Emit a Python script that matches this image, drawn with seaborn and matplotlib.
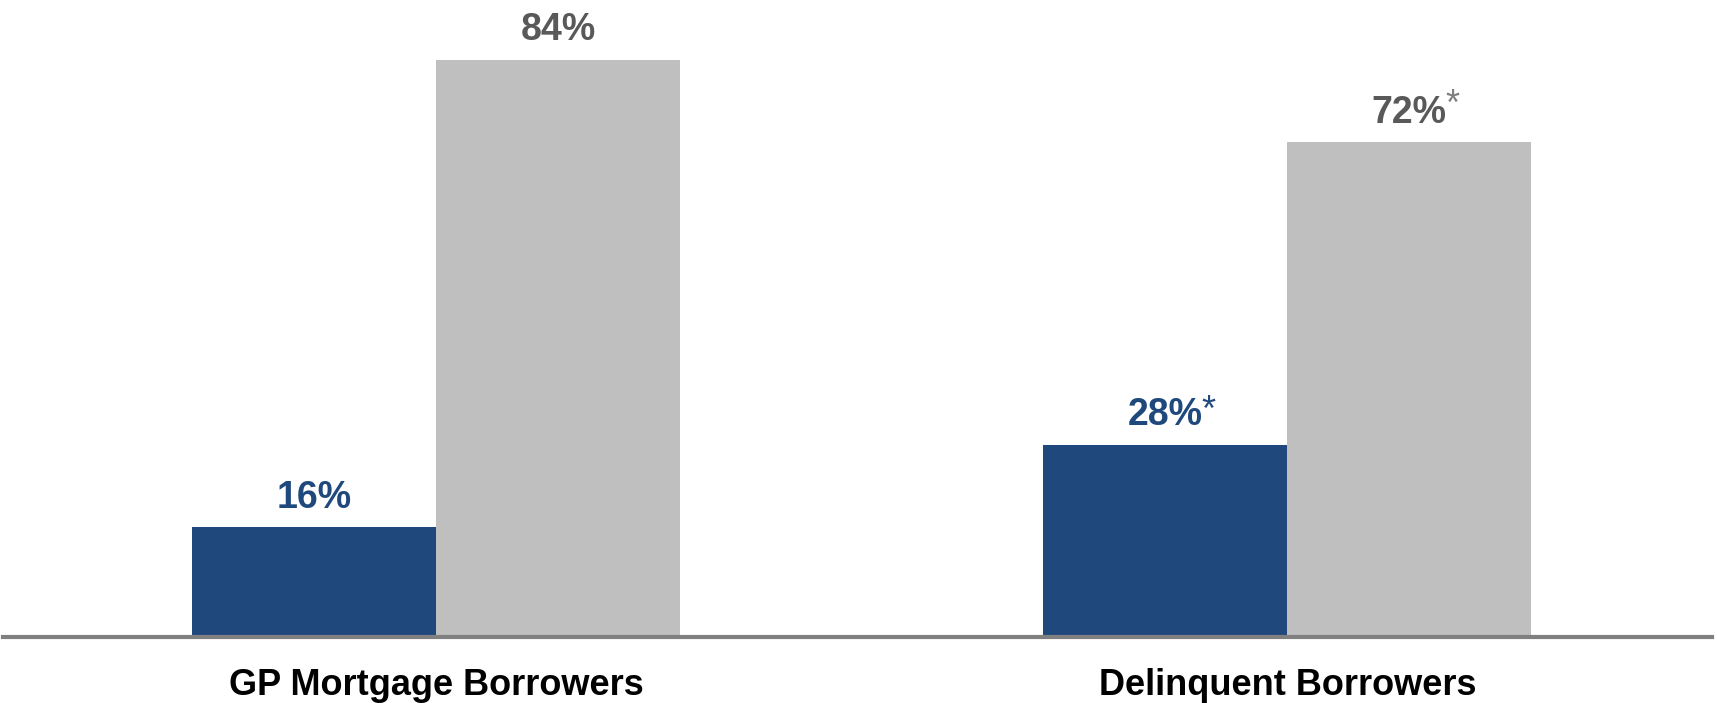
import matplotlib
matplotlib.use("Agg")
import matplotlib.pyplot as plt
import pandas as pd
import seaborn as sns

groups = ["GP Mortgage Borrowers", "Delinquent Borrowers"]
series = ["Share", "Remainder"]
share_values = [16, 28]
remainder_values = [84, 72]
share_flags = ["", "*"]
remainder_flags = ["", "*"]

bar_colors = {"Share": "#1F497D", "Remainder": "#BFBFBF"}
label_colors = {"Share": "#1F497D", "Remainder": "#595959"}
star_colors = {"Share": "#1F497D", "Remainder": "#7F7F7F"}

sns.set_theme(style="white")
plt.rcParams["font.family"] = ["Liberation Sans", "DejaVu Sans"]

df = pd.DataFrame({
    "group": groups * 2,
    "series": [series[0]] * 2 + [series[1]] * 2,
    "value": share_values + remainder_values,
    "flag": share_flags + remainder_flags,
})

fig = plt.figure(figsize=(17.17, 7.03), dpi=100)
ax = fig.add_axes([3 / 1717, 66 / 703, 1709 / 1717, 637 / 703])

sns.barplot(data=df, x="group", y="value", hue="series", order=groups,
            hue_order=series, palette=bar_colors, width=0.573, gap=0,
            saturation=1, linewidth=0, legend=False, ax=ax)

ax.set_xlim(-0.509, 1.499)
ax.set_ylim(0, 92.7)

for container, s in zip(ax.containers, series):
    sub = df[df["series"] == s].set_index("group").loc[groups]
    for bar, (_, row) in zip(container, sub.iterrows()):
        cx = bar.get_x() + bar.get_width() / 2
        txt = ax.annotate(f"{row['value']}%", xy=(cx, bar.get_height()),
                          xytext=(0, 14), textcoords="offset points",
                          ha="center", va="baseline", fontsize=27,
                          fontweight="bold", color=label_colors[s])
        if row["flag"]:
            # asterisk sits like a superscript right after the number
            raise_pts = 6 if s == "Remainder" else 3
            ax.annotate(row["flag"], xy=(1, 0), xycoords=txt,
                        xytext=(-1, raise_pts), textcoords="offset points",
                        ha="left", va="bottom", fontsize=26,
                        color=star_colors[s])

for side in ["left", "top", "right"]:
    ax.spines[side].set_visible(False)
ax.spines["bottom"].set_color("#808080")
ax.spines["bottom"].set_linewidth(3)

ax.set_yticks([])
ax.set_xlabel("")
ax.set_ylabel("")
ax.tick_params(axis="x", length=0, pad=22)
for lbl in ax.get_xticklabels():
    lbl.set_fontsize(26)
    lbl.set_fontweight("bold")
    lbl.set_color("black")

fig.savefig("out.png", dpi=100)
